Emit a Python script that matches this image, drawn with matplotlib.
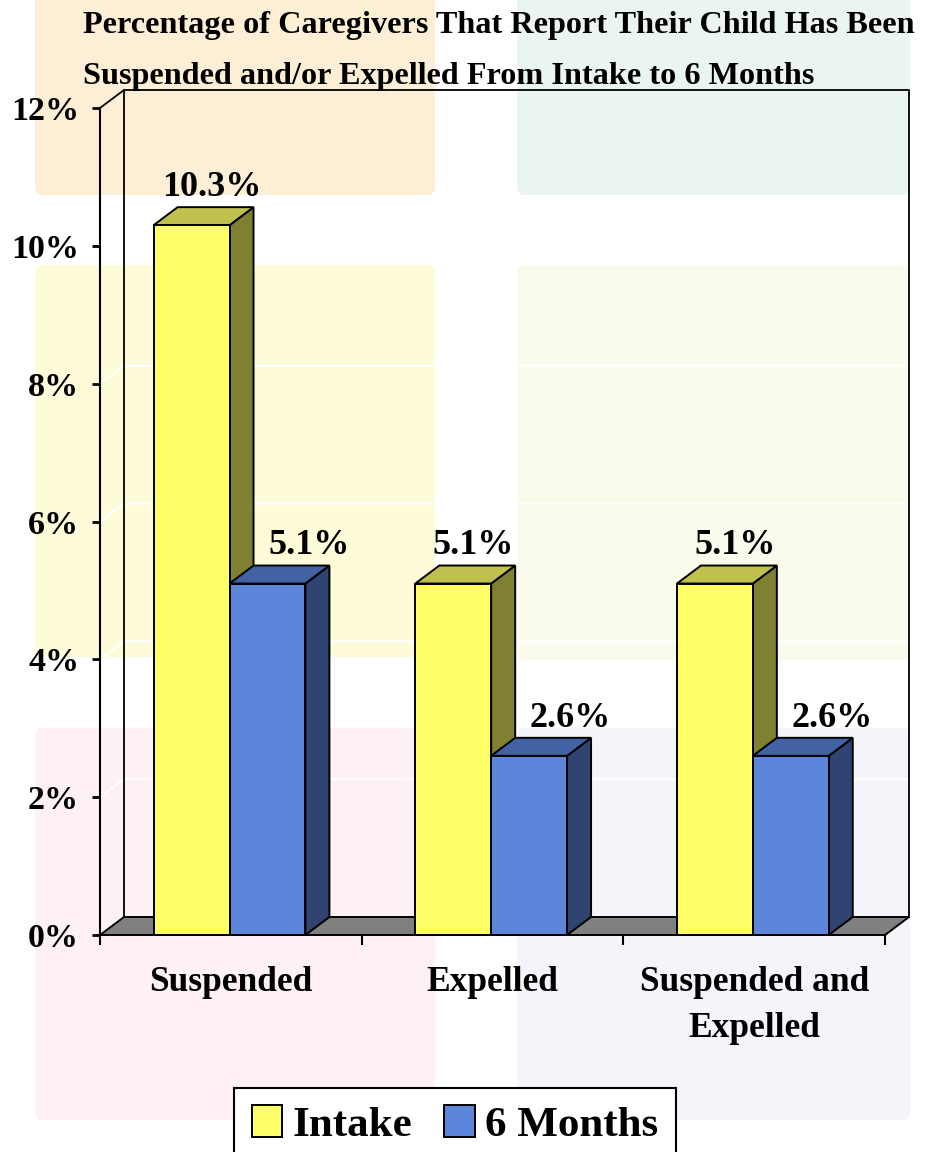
import matplotlib.pyplot as plt
from matplotlib.patches import Polygon, Rectangle, FancyBboxPatch, Patch

# data
categories = ["Suspended", "Expelled", "Suspended and\nExpelled"]
series_names = ["Intake", "6 Months"]
intake = [10.3, 5.1, 5.1]
six_months = [5.1, 2.6, 2.6]
yticks = [0, 2, 4, 6, 8, 10, 12]
title = ("Percentage of Caregivers That Report Their Child Has Been\n"
         "Suspended and/or Expelled From Intake to 6 Months")

# face colours: front / top / side
front = ['#FFFF66', '#5B86DA']
top = ['#C0C04E', '#4262A3']
side = ['#808033', '#2F4471']
label_dx = [6, 21]  # label nudge in points

plt.rcParams['font.family'] = ['Liberation Serif', 'DejaVu Serif']
plt.rcParams['font.weight'] = 'bold'

W, H = 930, 1152
fig = plt.figure(figsize=(W / 100, H / 100), dpi=100)

# pastel backdrop blocks (pixel boxes)
backdrop = [
    (35, -10, 400, 205, '#FDEFD6'),
    (517, -10, 393, 205, '#EAF4F2'),
    (35, 265, 400, 392, '#FEFBD9'),
    (517, 265, 393, 395, '#FAFBEC'),
    (35, 728, 400, 392, '#FDF1F4'),
    (517, 728, 393, 392, '#F4F5FA'),
]
for x, y, w, h, c in backdrop:
    fig.patches.append(FancyBboxPatch(
        (x / W, 1 - (y + h) / H), w / W, h / H,
        boxstyle='round,pad=0,rounding_size=0.008',
        transform=fig.transFigure, fc=c, ec='none', zorder=-10))

ax = fig.add_axes([100 / W, 1 - 935 / H, 785 / W, 827 / H])
ax.set_xlim(-0.5, len(categories) - 0.5)
ax.set_ylim(0, 12)
ax.patch.set_visible(False)
for s in ['top', 'right', 'bottom']:
    ax.spines[s].set_visible(False)
ax.spines['left'].set_linewidth(1.5)

# depth of the fake 3d, in data units
DX = 24 / 785 * 3
DY = 18 / 827 * 12
x_lo, x_hi = -0.5, len(categories) - 0.5

# gridlines on side + back wall
for t in yticks[1:-1]:
    ax.plot([x_lo, x_lo + DX, x_hi + DX], [t + 0.0, t + DY, t + DY],
            color='white', lw=1.6, zorder=1, clip_on=False)

# wall outline
ax.plot([x_lo + DX, x_lo + DX, x_hi + DX, x_hi + DX],
        [DY, 12 + DY, 12 + DY, DY], color='black', lw=1.3,
        zorder=1.5, clip_on=False)
ax.plot([x_lo, x_lo + DX], [12, 12 + DY], color='black', lw=1.3,
        zorder=1.5, clip_on=False)

# floor
ax.add_patch(Polygon([(x_lo, 0), (x_hi, 0), (x_hi + DX, DY), (x_lo + DX, DY)],
                     closed=True, fc='#808080', ec='black', lw=1.4,
                     zorder=2, clip_on=False))

BW = 0.29
for j, vals in enumerate([intake, six_months]):
    for i, v in enumerate(vals):
        x0 = i - 0.295 + j * BW
        ax.add_patch(Polygon([(x0 + BW, 0), (x0 + BW + DX, DY),
                              (x0 + BW + DX, v + DY), (x0 + BW, v)],
                             closed=True, fc=side[j], ec='black', lw=1.4,
                             zorder=3, clip_on=False))
        ax.add_patch(Polygon([(x0, v), (x0 + BW, v), (x0 + BW + DX, v + DY),
                              (x0 + DX, v + DY)],
                             closed=True, fc=top[j], ec='black', lw=1.4,
                             zorder=3, clip_on=False))
        ax.add_patch(Rectangle((x0, 0), BW, v, fc=front[j], ec='black',
                               lw=1.4, zorder=3, clip_on=False))
        ax.annotate(f'{v}%', (x0 + BW / 2 + DX / 2, v + DY),
                    xytext=(label_dx[j], 8), textcoords='offset points',
                    ha='center', va='baseline', fontsize=26, zorder=5)

ax.set_yticks(yticks, [f'{t}%' for t in yticks])
ax.tick_params(axis='y', direction='out', length=6, width=2, pad=9,
               labelsize=24.5)

ax.set_xticks([k - 0.5 for k in range(len(categories) + 1)], [''] * (len(categories) + 1))
ax.set_xticks(range(len(categories)), categories, minor=True)
ax.tick_params(axis='x', which='major', direction='out', length=7, width=1.5)
ax.tick_params(axis='x', which='minor', length=0, pad=22, labelsize=25.5)
for lbl in ax.get_xticklabels(minor=True):
    lbl.set_linespacing(1.55)

handles = [Patch(fc=front[0], ec='black', lw=1.4),
           Patch(fc=front[1], ec='black', lw=1.4)]
leg = fig.legend(handles, series_names, loc='upper center',
                 bbox_to_anchor=(455 / W, 1 - 1088 / H), ncol=2,
                 frameon=True, fancybox=False, edgecolor='black',
                 framealpha=1, prop=dict(size=31, weight='bold'),
                 handlelength=0.7, handleheight=0.75, handletextpad=0.25,
                 columnspacing=0.75, borderpad=0.4, borderaxespad=0)
leg.get_frame().set_linewidth(1.5)

fig.text(83 / W, 1 - 11 / H, title, ha='left', va='top', fontsize=23.2,
         linespacing=2.0)

fig.savefig('out.png', dpi=100)
plt.close(fig)
